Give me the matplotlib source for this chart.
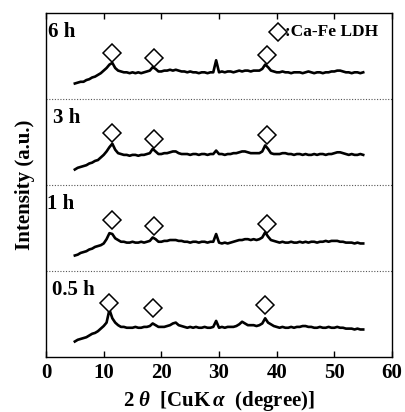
import numpy as np
import matplotlib
matplotlib.use('Agg')
import matplotlib.pyplot as plt
from matplotlib.font_manager import FontProperties

plt.rcParams['font.family'] = ['Liberation Serif', 'DejaVu Serif']
plt.rcParams['font.weight'] = 'bold'
plt.rcParams['axes.labelweight'] = 'bold'
plt.rcParams['mathtext.fontset'] = 'custom'
plt.rcParams['mathtext.rm'] = 'Liberation Serif:bold'
plt.rcParams['mathtext.it'] = 'Liberation Serif:italic'

# 2-theta grid (degree), 0.5 step from 5 to 55
two_theta = np.arange(5.0, 55.01, 0.5)

# intensities in % of one panel height
int_6h = [18, 19, 20, 20, 22, 23, 25, 26, 28, 30, 33, 36, 40, 42, 36, 33, 32, 31, 31, 30,
          31, 30, 31, 30, 31, 32, 33, 37, 35, 32, 32, 33, 33, 34, 33, 34, 33, 32, 32, 31,
          32, 31, 31, 30, 31, 31, 30, 31, 31, 45, 31, 32, 31, 32, 32, 31, 32, 33, 32, 33,
          33, 32, 33, 33, 33, 35, 40, 37, 33, 32, 31, 31, 32, 31, 31, 30, 31, 31, 31, 30,
          31, 32, 31, 30, 31, 31, 30, 31, 31, 32, 32, 33, 33, 32, 31, 31, 30, 31, 31, 30,
          31]
int_3h = [18, 20, 21, 22, 23, 25, 26, 28, 29, 32, 35, 39, 44, 48, 41, 37, 36, 35, 35, 34,
          35, 35, 34, 35, 35, 36, 37, 42, 39, 36, 36, 37, 37, 38, 39, 39, 37, 36, 36, 36,
          35, 36, 36, 35, 36, 36, 35, 36, 36, 40, 36, 36, 35, 36, 36, 37, 37, 38, 39, 39,
          38, 37, 37, 37, 37, 39, 46, 42, 37, 36, 36, 36, 37, 37, 36, 36, 35, 36, 36, 35,
          36, 35, 35, 36, 35, 36, 36, 35, 36, 36, 37, 38, 38, 37, 36, 35, 36, 35, 35, 36,
          35]
int_1h = [18, 19, 21, 22, 23, 25, 26, 28, 29, 30, 32, 37, 44, 43, 38, 36, 34, 34, 33, 33,
          34, 33, 33, 34, 33, 34, 35, 39, 37, 34, 34, 35, 35, 36, 36, 36, 35, 35, 34, 34,
          33, 34, 34, 33, 34, 34, 33, 34, 34, 43, 33, 32, 33, 32, 33, 34, 35, 36, 36, 37,
          37, 36, 37, 36, 37, 39, 45, 40, 36, 35, 34, 33, 34, 33, 33, 34, 33, 33, 34, 33,
          34, 33, 34, 34, 33, 34, 34, 35, 34, 35, 35, 35, 34, 34, 33, 33, 33, 32, 33, 32,
          32]
int_05h = [18, 20, 21, 22, 23, 25, 27, 28, 30, 33, 36, 40, 55, 45, 40, 37, 35, 35, 34, 34,
           34, 35, 34, 34, 35, 35, 36, 39, 37, 35, 35, 35, 36, 37, 39, 40, 37, 36, 35, 34,
           35, 34, 35, 34, 34, 35, 34, 34, 35, 42, 34, 35, 34, 35, 35, 35, 36, 38, 41, 39,
           37, 37, 37, 36, 37, 39, 45, 40, 38, 36, 35, 34, 35, 34, 34, 35, 34, 35, 35, 36,
           36, 35, 35, 34, 34, 35, 34, 34, 35, 34, 34, 35, 34, 34, 33, 33, 33, 32, 33, 32,
           32]

times = ['0.5 h', '1 h', '3 h', '6 h']
patterns = [int_05h, int_1h, int_3h, int_6h]

# Ca-Fe LDH peak marks: positions and heights (% of panel)
ldh_pos = [[11.0, 18.5, 37.9], [11.4, 18.7, 38.3], [11.4, 18.7, 38.3], [11.4, 18.7, 38.3]]
ldh_height = [[63, 57, 60], [59, 52, 55], [61, 54, 58], [54, 48, 51]]

label_x = [1.0, 0.2, 1.2, 0.35]
x_ticks = [0, 10, 20, 30, 40, 50, 60]
x_tick_labels = ['0', '10', '20', '30', '40', '50', '60']


def main():
    fig = plt.figure(figsize=(4.05, 4.12), dpi=100)
    ax = fig.add_axes([0.1136, 0.1335, 0.8544, 0.835])

    for i, y in enumerate(patterns):
        ax.plot(two_theta, np.array(y) / 100.0 + i, color='black', lw=1.9)
        ax.plot(ldh_pos[i], np.array(ldh_height[i]) / 100.0 + i, 'D', ms=9.5,
                mfc='white', mec='black', mew=1.1, ls='none')
        ax.text(label_x[i], i + 0.78, times[i], fontsize=15, fontweight='bold',
                ha='left', va='center')
        if i > 0:
            ax.axhline(i, color='#555555', lw=0.8, ls=(0, (1, 1.5)))

    # legend
    ax.plot([40.3], [3.78], 'D', ms=9.5, mfc='white', mec='black', mew=1.1)
    ax.text(41.5, 3.78, ':Ca-Fe LDH', fontsize=12.5, fontweight='bold',
            ha='left', va='center')

    ax.set_xlim(0, 60)
    ax.set_ylim(0, 4)
    ax.set_yticks([])
    ax.tick_params(axis='x', direction='in', top=True, length=4, width=1, pad=4)
    ax.set_xticks(x_ticks)
    tick_font = FontProperties(family='Liberation Serif', weight='bold', size=15)
    ax.set_xticklabels(x_tick_labels, fontproperties=tick_font)
    for s in ax.spines.values():
        s.set_linewidth(1.0)

    ax.set_xlabel('2 $\\theta$  [CuK$\\,\\alpha$  (degree)]', fontsize=15,
                  fontweight='bold', labelpad=5)
    ax.set_ylabel('Intensity (a.u.)', fontsize=15, fontweight='bold', labelpad=8)

    fig.savefig('out.png', dpi=100)


if __name__ == '__main__':
    main()
